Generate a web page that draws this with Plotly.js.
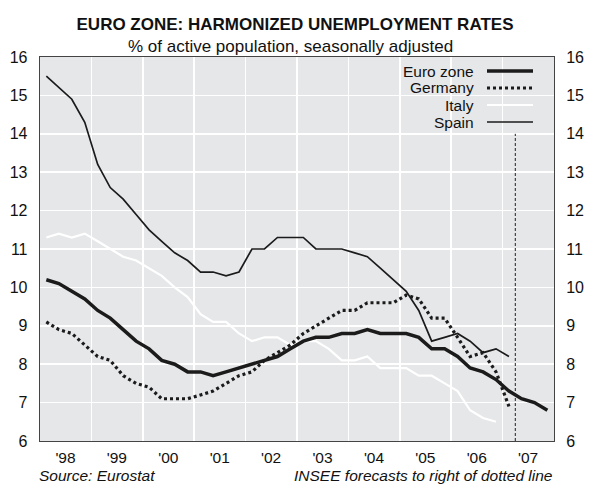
<!DOCTYPE html>
<html>
<head>
<meta charset="utf-8">
<script src="https://cdn.plot.ly/plotly-3.0.1.min.js"></script>
<style>html,body{margin:0;padding:0;background:#fff;}#chart{width:590px;height:484px;}</style>
</head>
<body>
<div id="chart"></div>
<script>
// Quarterly observations, 1998Q1 .. 2007Q4
const quarters = [
  "1998Q1","1998Q2","1998Q3","1998Q4","1999Q1","1999Q2","1999Q3","1999Q4",
  "2000Q1","2000Q2","2000Q3","2000Q4","2001Q1","2001Q2","2001Q3","2001Q4",
  "2002Q1","2002Q2","2002Q3","2002Q4","2003Q1","2003Q2","2003Q3","2003Q4",
  "2004Q1","2004Q2","2004Q3","2004Q4","2005Q1","2005Q2","2005Q3","2005Q4",
  "2006Q1","2006Q2","2006Q3","2006Q4","2007Q1","2007Q2","2007Q3","2007Q4"
];
const euroZone = [10.2,10.1,9.9,9.7,9.4,9.2,8.9,8.6,8.4,8.1,8.0,7.8,7.8,7.7,7.8,7.9,
  8.0,8.1,8.2,8.4,8.6,8.7,8.7,8.8,8.8,8.9,8.8,8.8,8.8,8.7,8.4,8.4,8.2,7.9,7.8,7.6,
  7.3,7.1,7.0,6.8];
const germany = [9.1,8.9,8.8,8.5,8.2,8.1,7.7,7.5,7.4,7.1,7.1,7.1,7.2,7.3,7.5,7.7,
  7.8,8.1,8.3,8.5,8.8,9.0,9.2,9.4,9.4,9.6,9.6,9.6,9.8,9.7,9.2,9.2,8.7,8.2,8.3,7.8,6.9];
const italy = [11.3,11.4,11.3,11.4,11.2,11.0,10.8,10.7,10.5,10.3,10.0,9.75,9.3,9.1,9.1,8.8,
  8.6,8.7,8.7,8.5,8.6,8.6,8.4,8.1,8.1,8.2,7.9,7.9,7.9,7.7,7.7,7.5,7.3,6.8,6.6,6.5];
const spain = [15.5,15.2,14.9,14.3,13.2,12.6,12.3,11.9,11.5,11.2,10.9,10.7,10.4,10.4,10.3,10.4,
  11.0,11.0,11.3,11.3,11.3,11.0,11.0,11.0,10.9,10.8,10.5,10.2,9.9,9.4,8.6,8.7,8.8,8.6,8.3,8.4,8.2];
const seriesNames = ["Euro zone","Germany","Italy","Spain"];
const yearLabels = ["'98","'99","'00","'01","'02","'03","'04","'05","'06","'07"];
const yearMid = ["1998-07-01","1999-07-01","2000-07-01","2001-07-01","2002-07-01",
  "2003-07-01","2004-07-01","2005-07-01","2006-07-01","2007-07-01"];
const forecastStart = "2007-04-01";

function qDate(q){ // mid-quarter date
  const y = q.slice(0,4), n = +q.slice(5);
  const m = ["02-15","05-15","08-15","11-15"][n-1];
  return y + "-" + m;
}
const xs = quarters.map(qDate);

const styles = [
  {color:"#1b1b1b", width:3.5, dash:"solid"},
  {color:"#1b1b1b", width:3.2, dash:"3px,3px"},
  {color:"#ffffff", width:2.2, dash:"solid"},
  {color:"#1b1b1b", width:1.7, dash:"solid"}
];
const values = [euroZone, germany, italy, spain];

const order = [2,3,1,0];
const traces = order.map(i => ({
  type:"scatter", mode:"lines", name:seriesNames[i],
  x: xs.slice(0, values[i].length), y: values[i],
  line:{color:styles[i].color, width:styles[i].width, dash:styles[i].dash},
  yaxis: i===0 ? "y2" : "y",
  hoverinfo:"skip", showlegend:false
}));

const F = "'Liberation Sans', Arial, Helvetica, sans-serif";
const L = 40, R = 554, T = 57, B = 441;
const px = v => (v - L)/(R - L);
const py = v => (B - v)/(B - T);

const shapes = [{
  type:"line", xref:"x", yref:"y", x0:forecastStart, x1:forecastStart, y0:6, y1:14,
  line:{color:"#222", width:1, dash:"3px,2px"}
}];
const annotations = [
  {text:"% of active population, seasonally adjusted", xref:"paper", yref:"paper",
   x:px(290), y:py(46), xanchor:"center", yanchor:"middle", showarrow:false,
   font:{family:F, size:17, color:"#111"}},
  {text:"<i>Source: Eurostat</i>", xref:"paper", yref:"paper", x:px(38), y:py(475),
   xanchor:"left", yanchor:"middle", showarrow:false, borderpad:0,
   font:{family:F, size:15.5, color:"#111"}},
  {text:"<i>INSEE forecasts to right of dotted line</i>", xref:"paper", yref:"paper",
   x:px(554), y:py(475), xanchor:"right", yanchor:"middle", showarrow:false, borderpad:0,
   font:{family:F, size:15.5, color:"#111"}}
];
const legY = [71, 88, 105, 122];
seriesNames.forEach((n,i) => {
  annotations.push({text:n, xref:"paper", yref:"paper", x:px(476), y:py(legY[i]),
    xanchor:"right", yanchor:"middle", showarrow:false, font:{family:F, size:15.5, color:"#111"}});
  shapes.push({type:"line", xref:"paper", yref:"paper", x0:px(487), x1:px(533),
    y0:py(legY[i]), y1:py(legY[i]),
    line:{color:styles[i].color, width:styles[i].width, dash:styles[i].dash}});
});

const yCommon = {
  range:[6,16], tickmode:"linear", tick0:6, dtick:1, fixedrange:true,
  ticks:"outside", ticklen:8, tickcolor:"rgba(0,0,0,0)",
  tickfont:{family:F, size:16, color:"#111"}, zeroline:false
};

const layout = {
  width:590, height:484,
  margin:{l:L, r:590-R, t:T, b:484-B, pad:0},
  paper_bgcolor:"#ffffff", plot_bgcolor:"#e6e7e9",
  showlegend:false,
  title:{text:"<b>EURO ZONE: HARMONIZED UNEMPLOYMENT RATES</b>",
    font:{family:F, size:17, color:"#111"},
    xref:"container", x:0.5, xanchor:"center", yref:"container", y:1-24/484, yanchor:"middle"},
  xaxis:{type:"date", range:["1998-01-01","2008-01-01"], tickmode:"array",
    tickvals:yearMid, ticktext:yearLabels, showgrid:false, zeroline:false,
    ticks:"outside", ticklen:2, tickcolor:"rgba(0,0,0,0)",
    tickfont:{family:F, size:15.5, color:"#111"},
    minor:{tickmode:"linear", tick0:"1998-01-01", dtick:"M12", showgrid:true,
      gridcolor:"#ffffff", gridwidth:1.6, ticks:""},
    showline:true, linecolor:"#444", linewidth:1.3, mirror:true},
  yaxis:Object.assign({}, yCommon, {side:"left", showgrid:true, gridcolor:"#ffffff", gridwidth:1.6,
    showline:true, linecolor:"#444", linewidth:1.3, mirror:true}),
  yaxis2:Object.assign({}, yCommon, {side:"right", overlaying:"y", showgrid:false, showline:false}),
  shapes:shapes, annotations:annotations
};

Plotly.newPlot("chart", traces, layout, {staticPlot:true, displayModeBar:false});
</script>
</body>
</html>
